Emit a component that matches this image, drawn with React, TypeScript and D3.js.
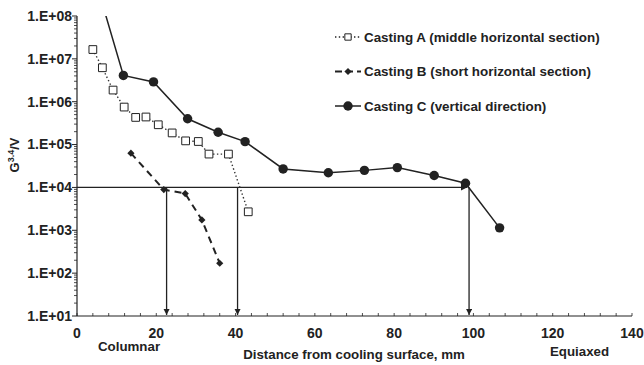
import React, { useEffect, useRef } from 'react'
import * as d3 from 'd3'

// distance from cooling surface (mm) and G^3.4/V values
const castingAX = [4.0, 6.4, 9.1, 11.9, 14.8, 17.4, 20.5, 24.0, 27.4, 30.6, 33.3, 38.2, 43.2]
const castingAY = [1.65e7, 6.2e6, 1.87e6, 7.5e5, 4.3e5, 4.4e5, 2.9e5, 1.87e5, 1.22e5, 1.18e5, 6.0e4, 6.0e4, 2.7e3]

const castingBX = [13.6, 21.9, 27.3, 31.5, 36.0]
const castingBY = [6.3e4, 8.9e3, 7.2e3, 1.74e3, 170]

const castingCX = [4.0, 11.7, 19.3, 27.9, 35.6, 42.4, 52.0, 63.4, 72.5, 80.8, 90.1, 98.0, 106.6]
const castingCY = [1.1e9, 4.1e6, 2.9e6, 4.0e5, 1.94e5, 1.17e5, 2.7e4, 2.2e4, 2.5e4, 2.9e4, 1.9e4, 1.25e4, 1.14e3]

const thresholdValue = 1e4
const transitionX = [22.6, 40.5, 98.9]

const xTicks = [0, 20, 40, 60, 80, 100, 120, 140]
const yTicks = [1e1, 1e2, 1e3, 1e4, 1e5, 1e6, 1e7, 1e8]
const yTickLabels = ['1.E+01', '1.E+02', '1.E+03', '1.E+04', '1.E+05', '1.E+06', '1.E+07', '1.E+08']

const legendLabels = [
  'Casting A (middle horizontal section)',
  'Casting B (short horizontal section)',
  'Casting C (vertical direction)',
]

export default function App() {
  const ref = useRef<SVGSVGElement>(null)

  useEffect(() => {
    const width = 644
    const height = 365
    const margin = { top: 16, right: 12, bottom: 49, left: 77 }
    const innerW = width - margin.left - margin.right
    const innerH = height - margin.top - margin.bottom
    const font = "'Liberation Sans', Arial, sans-serif"
    const ink = '#222'

    const svg = d3.select(ref.current)
    svg.selectAll('*').remove()

    const x = d3.scaleLinear().domain([0, 140]).range([0, innerW])
    const y = d3.scaleLog().domain([1e1, 1e8]).range([innerH, 0])

    const defs = svg.append('defs')
    defs.append('clipPath').attr('id', 'plot-clip')
      .append('rect').attr('width', innerW).attr('height', innerH)
    defs.append('marker')
      .attr('id', 'arrow')
      .attr('viewBox', '0 0 10 10')
      .attr('refX', 10).attr('refY', 5)
      .attr('markerWidth', 5).attr('markerHeight', 5)
      .attr('orient', 'auto')
      .append('path').attr('d', 'M0,0 L10,5 L0,10 z').attr('fill', ink)

    const g = svg.append('g').attr('transform', `translate(${margin.left},${margin.top})`)

    // y axis with log minor ticks
    const minor: number[] = []
    for (let e = 1; e < 8; e++) for (let m = 2; m <= 9; m++) minor.push(m * Math.pow(10, e))
    const yAxis = g.append('g')
    yAxis.append('line').attr('y1', 0).attr('y2', innerH).attr('stroke', ink).attr('stroke-width', 1.2)
    yAxis.selectAll('.minor').data(minor).enter().append('line')
      .attr('x1', -3).attr('x2', 0).attr('y1', d => y(d)).attr('y2', d => y(d))
      .attr('stroke', ink).attr('stroke-width', 0.8)
    yAxis.selectAll('.major').data(yTicks).enter().append('line')
      .attr('x1', -5).attr('x2', 0).attr('y1', d => y(d)).attr('y2', d => y(d))
      .attr('stroke', ink).attr('stroke-width', 1)
    yAxis.selectAll('text').data(yTicks).enter().append('text')
      .attr('x', -5).attr('y', d => y(d)).attr('dy', '0.35em')
      .attr('text-anchor', 'end')
      .attr('font-family', font).attr('font-weight', 'bold').attr('font-size', 14)
      .attr('fill', ink)
      .text((d, i) => yTickLabels[i])

    // x axis
    const xAxis = g.append('g').attr('transform', `translate(0,${innerH})`)
    xAxis.append('line').attr('x1', 0).attr('x2', innerW).attr('stroke', ink).attr('stroke-width', 1.2)
    xAxis.selectAll('.minor').data(d3.range(0, 141, 4)).enter().append('line')
      .attr('x1', d => x(d)).attr('x2', d => x(d)).attr('y1', 0).attr('y2', -3)
      .attr('stroke', ink).attr('stroke-width', 0.8)
    xAxis.selectAll('text').data(xTicks).enter().append('text')
      .attr('x', d => x(d)).attr('y', 17)
      .attr('dy', '0.35em')
      .attr('text-anchor', 'middle')
      .attr('font-family', font).attr('font-weight', 'bold').attr('font-size', 14)
      .attr('fill', ink)
      .text(d => d)

    // axis titles
    g.append('text')
      .attr('x', 277).attr('y', innerH + 43)
      .attr('text-anchor', 'middle')
      .attr('font-family', font).attr('font-weight', 'bold').attr('font-size', 13.3)
      .attr('fill', ink)
      .text('Distance from cooling surface, mm')
    g.append('text')
      .attr('x', 21).attr('y', innerH + 35)
      .attr('font-family', font).attr('font-weight', 'bold').attr('font-size', 13.3)
      .attr('fill', ink)
      .text('Columnar')
    g.append('text')
      .attr('x', 473).attr('y', innerH + 40)
      .attr('font-family', font).attr('font-weight', 'bold').attr('font-size', 13.3)
      .attr('fill', ink)
      .text('Equiaxed')

    const yTitle = svg.append('text')
      .attr('transform', 'translate(19,155) rotate(-90)')
      .attr('text-anchor', 'middle')
      .attr('font-family', font).attr('font-weight', 'bold').attr('font-size', 13)
      .attr('fill', ink)
    yTitle.append('tspan').text('G')
    yTitle.append('tspan').attr('dy', -5).attr('font-size', 9).text('3.4')
    yTitle.append('tspan').attr('dy', 5).text('/V')

    // threshold and transition arrows
    const arrows = g.append('g')
    arrows.append('line')
      .attr('x1', x(0)).attr('x2', x(transitionX[2]) - 2)
      .attr('y1', y(thresholdValue)).attr('y2', y(thresholdValue))
      .attr('stroke', ink).attr('stroke-width', 1.3)
      .attr('marker-end', 'url(#arrow)')
    arrows.selectAll('.drop').data(transitionX).enter().append('line')
      .attr('x1', d => x(d)).attr('x2', d => x(d))
      .attr('y1', y(thresholdValue)).attr('y2', innerH - 1)
      .attr('stroke', ink).attr('stroke-width', 1.3)
      .attr('marker-end', 'url(#arrow)')

    const plot = g.append('g').attr('clip-path', 'url(#plot-clip)')
    const line = d3.line<[number, number]>().x(d => x(d[0])).y(d => y(d[1]))
    const zipA = castingAX.map((v, i) => [v, castingAY[i]] as [number, number])
    const zipB = castingBX.map((v, i) => [v, castingBY[i]] as [number, number])
    const zipC = castingCX.map((v, i) => [v, castingCY[i]] as [number, number])

    plot.append('path').attr('d', line(zipA)).attr('fill', 'none')
      .attr('stroke', '#333').attr('stroke-width', 1.4).attr('stroke-dasharray', '1.4 2.4')
    plot.append('path').attr('d', line(zipB)).attr('fill', 'none')
      .attr('stroke', ink).attr('stroke-width', 2).attr('stroke-dasharray', '7 5')
    plot.append('path').attr('d', line(zipC)).attr('fill', 'none')
      .attr('stroke', ink).attr('stroke-width', 1.5)

    const square = d3.symbol().type(d3.symbolSquare).size(60)
    const diamond = d3.symbol().type(d3.symbolSquare).size(26)
    const circle = d3.symbol().type(d3.symbolCircle).size(70)

    plot.selectAll('.ptA').data(zipA).enter().append('path')
      .attr('d', square).attr('transform', d => `translate(${x(d[0])},${y(d[1])})`)
      .attr('fill', 'white').attr('stroke', ink).attr('stroke-width', 1)
    plot.selectAll('.ptB').data(zipB).enter().append('path')
      .attr('d', diamond).attr('transform', d => `translate(${x(d[0])},${y(d[1])}) rotate(45)`)
      .attr('fill', ink)
    plot.selectAll('.ptC').data(zipC).enter().append('path')
      .attr('d', circle).attr('transform', d => `translate(${x(d[0])},${y(d[1])})`)
      .attr('fill', ink)

    // legend
    const legend = svg.append('g').attr('transform', 'translate(335,37)')
    const rows = legend.selectAll('g').data(legendLabels).enter().append('g')
      .attr('transform', (d, i) => `translate(0,${i * 34.5})`)
    rows.append('line').attr('x1', 0).attr('x2', 26).attr('y1', 0).attr('y2', 0)
      .attr('stroke', ink)
      .attr('stroke-width', (d, i) => (i === 0 ? 1.4 : i === 1 ? 2 : 1.5))
      .attr('stroke-dasharray', (d, i) => (i === 0 ? '1.4 2.4' : i === 1 ? '7 4' : null))
    rows.append('path')
      .attr('transform', (d, i) => (i === 1 ? 'translate(13,0) rotate(45)' : 'translate(13,0)'))
      .attr('d', (d, i) => (i === 0 ? d3.symbol().type(d3.symbolSquare).size(40)() : i === 1 ? diamond() : circle()))
      .attr('fill', (d, i) => (i === 0 ? 'white' : ink))
      .attr('stroke', (d, i) => (i === 0 ? ink : 'none'))
    rows.append('text')
      .attr('x', 29).attr('dy', '0.35em')
      .attr('font-family', font).attr('font-weight', 'bold').attr('font-size', 13.4)
      .attr('fill', ink)
      .text(d => d)
  }, [])

  return (
    <div>
      <svg ref={ref} width={644} height={365} style={{ position: 'absolute', left: 0, top: 0, background: 'white' }} />
    </div>
  )
}
